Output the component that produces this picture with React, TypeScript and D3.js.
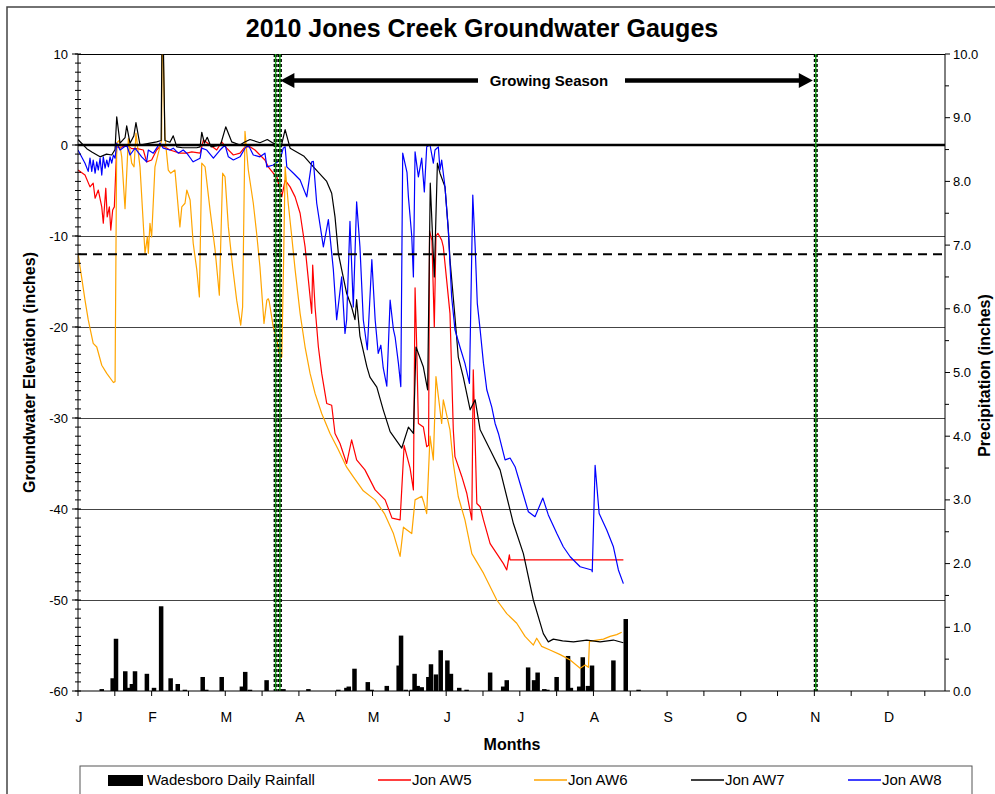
import React from 'react';
import * as d3 from 'd3';

// day of year (0 = Jan 1) and elevation in inches
const aw5: [number, number][] = [
  [0,-2.75],[2.95,-3.3],[5.05,-4.6],[6.4,-4.2],[7.2,-5.85],[8.55,-4.95],[10,-6.8],[10.65,-8.6],[11.7,-4.75],[12.3,-7.9],[13.2,-6.8],[13.8,-9.35],[14.6,-7.15],[15.3,-6.8],
  [16.3,-0.2],[17.7,-0.3],[20.5,0],[22.6,-0.4],[25,-0.4],[27.5,-0.55],[28.9,-1.85],[31,-1.65],[33.1,-0.55],[35.2,0],[38.7,-0.55],[42.9,-0.9],[45.8,-0.9],[47.9,-0.75],
  [51.4,-0.9],[52.8,0.55],[55.6,0],[58.4,-0.55],[60.5,0.35],[62.6,-0.35],[65.4,-1.1],[68.2,-0.9],[70.3,-0.2],[72.4,-0.2],[74.5,-0.55],[76.6,-1.1],[78.7,-1.65],[80.1,-2.4],
  [82.2,-3.1],[83.7,-3.5],[85.8,-5.7],[87.2,-3.85],[89.3,-4.6],[91.4,-5.7],[93.5,-7.5],[95.6,-11.2],[97,-14.85],[98.4,-18.5],[98.8,-13.2],[99.8,-17.8],[101.2,-22.2],
  [102.6,-25.1],[104.7,-28.4],[106.8,-28.6],[108.2,-31.7],[110.3,-32.8],[113.1,-35.0],[115.2,-32.4],[117.3,-34.6],[120.8,-35.7],[125.1,-37.9],[129.3,-39.0],[132.2,-41.0],
  [135.6,-41.2],[137.3,-33.0],[139.8,-35.5],[141.2,-37.9],[141.9,-15.7],[142.6,-22.2],[143.3,-30.6],[145.4,-31.0],[146.8,-33.15],[147.6,-33],[148,-9.4],[149,-10.5],
  [150,-20.0],[150.7,-10.0],[151.5,-9.7],[153.1,-10.45],[153.8,-11.2],[155.2,-14.85],[156.6,-18.5],[158,-31.3],[158.7,-34.25],[161.6,-36.45],[163.7,-38.3],[165.8,-41.2],
  [166.4,-24.7],[167.9,-39.4],[169.3,-39.75],[170.7,-41.2],[173.5,-43.8],[176.3,-44.9],[179.1,-46.0],[180.5,-46.7],[181.6,-45.05],[181.9,-45.6],[229.6,-45.6]
];

const aw6: [number, number][] = [
  [0,-11.9],[1.5,-14.5],[2.95,-17.05],[4.3,-19.2],[6.4,-21.8],[7.9,-22.2],[10,-24.2],[12.1,-25.1],[14.9,-26.1],[15.6,-26.0],[16.3,0.2],[17.3,0.5],[18.4,-1.3],[19.8,-7.0],
  [21.2,0.7],[22.6,-2.0],[23.6,-2.4],[24.4,1.3],[26.1,-2.4],[28.2,-11.9],[29.2,-10.1],[29.6,-11.9],[30.3,-8.6],[31,-10.1],[32.4,-2.4],[33.8,-0.9],[35.2,0.5],[35.4,10],
  [35.9,10],[36.6,0.9],[38,-2.75],[39,-3.1],[40.8,-2.75],[42.9,-9.0],[43.7,-6.8],[45.05,-6.4],[45.8,-4.95],[47.2,-6.05],[48.5,-10.8],[50,-13.7],[51.1,-16.7],[52.1,-2.0],
  [53.5,-2.4],[55.6,-7.15],[57.7,-11.5],[59.5,-16.5],[60.9,-3.1],[61.9,-3.5],[63.3,-9.0],[65.1,-13.4],[66.8,-17.05],[68.5,-19.8],[69.3,-17.8],[70.3,1.5],[71.7,-2.75],
  [73.8,-6.4],[75.2,-9.7],[76.6,-13.4],[78.3,-19.6],[79.5,-17.05],[80.1,-16.9],[80.5,-17.2],[82.2,-20.0],[83.7,-21.4],[85.05,-23.45],[85.8,-23.3],[86.6,-12],[87.2,-2.4],
  [88.5,-6.4],[90,-10.1],[91.4,-13.7],[93.5,-18.5],[95.6,-22.2],[97.7,-25.1],[99.8,-27.3],[102.6,-29.5],[106.1,-31.7],[109.6,-33.5],[113.1,-35.4],[116,-36.5],[120.1,-38.0],
  [125,-39.0],[129,-40.5],[132.8,-42.7],[135.6,-45.2],[137,-42.0],[138.5,-42.3],[140.5,-42.7],[141.9,-39.0],[144.7,-38.6],[145.5,-39.2],[146.8,-40.5],[148.2,-32.0],
  [149.6,-34.6],[150.7,-25.45],[153.1,-30.6],[153.8,-28.0],[156.6,-31.3],[158,-35.0],[160.1,-38.65],[162.9,-41.2],[165.8,-44.9],[170.7,-47.05],[176.3,-50.0],[180.5,-51.5],
  [184.7,-52.55],[188.2,-54.0],[191.7,-54.95],[193.1,-54.2],[195.2,-55.1],[198.7,-55.5],[203,-56.0],[207.2,-56.6],[211.4,-57.5],[213.5,-57.15],[214.9,-57.4],[215.3,-54.55],
  [218.4,-54.4],[221.2,-54.3],[224,-54.0],[226.8,-53.8],[228.9,-53.55]
];

const aw7: [number, number][] = [
  [0,0.6],[3.7,-0.4],[6,-0.8],[9.3,-1.3],[12,-1.0],[14.2,-1.1],[15.6,-0.5],[16.3,3.1],[17.7,0.2],[19.8,0.8],[20.5,2.1],[21.9,0.2],[23.5,1.0],[24.4,2.45],[26.1,0],
  [28.2,0.1],[30.3,0.2],[33.1,0.35],[35.0,0.5],[35.3,10],[36.0,10],[36.6,0.5],[38.7,0.3],[40.1,1.0],[41.6,-0.2],[44,-0.3],[47,-0.3],[50,-0.3],[51.4,-0.2],[52.1,1.4],
  [53.2,0.2],[54.4,0.85],[56,-0.2],[60,0],[62.2,2.0],[64.7,0.35],[68.2,0],[70,0.3],[72.4,0.6],[76.6,0.25],[79.7,0.6],[82.2,0.2],[84.5,0],[85.5,-0.2],[87.2,1.7],
  [89.3,-0.35],[95,-1.2],[99.1,-2.4],[104.7,-4.0],[106.8,-5.3],[108.2,-7.9],[109.6,-11.9],[111,-13.7],[113.1,-16.3],[115.2,-17.8],[116.6,-19.2],[117.3,-17.0],[118.7,-21.0],
  [121.6,-24.35],[122.9,-25.5],[125.8,-26.6],[128.5,-29.1],[131.4,-31.5],[136.3,-33.3],[139.1,-31.0],[141.2,-31.7],[142.3,-22.2],[145.4,-24.4],[147.2,-26.9],[148.3,-4.2],
  [150,-14.5],[151.3,-2.0],[152.4,-3.1],[154.5,-4.6],[155.9,-9.3],[156.6,-12.6],[158.7,-18.9],[160.1,-23.3],[162.2,-25.5],[165.1,-29.1],[167.2,-28.0],[169.3,-31.3],
  [173.5,-33.5],[177.7,-35.7],[183.3,-41.6],[187.5,-44.9],[191.7,-50.0],[195.9,-53.7],[198,-54.6],[200.1,-54.3],[204,-54.5],[208.6,-54.6],[214.2,-54.4],[219.8,-54.6],
  [225.4,-54.4],[229.6,-54.7]
];

const aw8: [number, number][] = [
  [0,-0.55],[2.95,-2.0],[4.3,-2.9],[5.05,-1.45],[5.8,-2.9],[6.4,-1.65],[7.2,-3.1],[7.9,-1.85],[8.55,-2.75],[9.3,-1.45],[10,-3.3],[10.65,-1.3],[11.4,-2.55],[12.1,-1.65],
  [12.8,-2.4],[13.5,-1.3],[14.2,-2.0],[14.9,-1.1],[15.6,-1.45],[16.3,0.2],[17.7,-0.55],[20.5,0],[21.9,-1.1],[24,-0.35],[26.8,-1.3],[28.9,-1.85],[29.6,-0.55],[31.7,-0.9],
  [34.5,0.2],[35.9,-0.35],[38.7,-0.55],[40.1,-0.35],[42.2,-0.9],[44.3,-0.55],[45.8,-0.9],[47.9,-1.65],[48.5,-1.85],[51.4,-1.45],[52.1,-0.35],[54.2,-0.55],[57,-1.45],
  [59.8,-0.55],[61.9,0],[63.3,-1.3],[65.4,-1.65],[68.2,-1.3],[70.3,-0.35],[71.7,0],[73.8,-1.1],[76.6,-1.3],[78.7,-0.9],[79.5,-2.4],[82.2,-2.2],[85.05,-1.65],[86.4,-0.35],
  [87.2,-0.2],[87.9,-2.4],[90.7,-3.1],[93.5,-3.85],[96.3,-5.7],[98.4,-1.85],[99.1,-1.8],[100.5,-6.4],[103.3,-11.2],[105.4,-8.2],[107.5,-13.7],[108.9,-19.2],[111,-14.5],
  [112.4,-20.7],[113.1,-19.2],[114.5,-8.4],[115.9,-17.8],[117.3,-6.25],[118.7,-11.2],[120.1,-19.2],[121.8,-22.5],[123.7,-12.6],[125.1,-19.2],[126.4,-22.9],[127.5,-22.0],
  [128.5,-24.5],[130,-26.5],[131.4,-17.05],[132.8,-20.3],[133.5,-21.1],[134.9,-24.0],[135.9,-26.55],[136.7,-0.9],[138.5,-3.0],[139.1,-5.7],[140.5,-10.0],[141.2,-14.5],
  [141.9,-0.75],[143.3,-3.5],[144.7,-1.45],[145.8,-5.15],[146.8,-0.2],[148.2,0],[149.6,-2.0],[150.3,-0.55],[151.7,-0.2],[152.4,-2.75],[153.1,-1.65],[154.5,-4.6],
  [155.9,-9.35],[157.3,-16.7],[158.7,-20.3],[160.8,-22.2],[162.9,-24.0],[164.8,-26.2],[166.2,-5.5],[167.2,-11.2],[168.1,-17.4],[169.3,-20.3],[170.7,-24.0],[172.1,-26.9],
  [174.2,-28.8],[175.6,-30.6],[177,-31.7],[179.8,-34.6],[181.9,-34.4],[184,-35.35],[186.1,-37.2],[189.6,-40.3],[192.4,-40.85],[195.7,-38.8],[198,-40.65],[201.6,-42.7],
  [204.3,-44.15],[207.2,-45.25],[211.4,-46.35],[216.3,-46.7],[216.5,-46.9],[217.7,-35.2],[219.4,-40.5],[222.6,-42.3],[225.4,-44.15],[227.5,-46.7],[229.6,-48.2]
];

// Wadesboro daily rainfall: day of year, inches
const rainfall: [number, number][] = [
  [10,0.03],[14.6,0.2],[16,0.82],[19.9,0.31],[21,0.05],[22.7,0.11],[24,0.31],[29,0.27],[32,0.05],[35,1.33],[39,0.2],[42,0.11],[45,0.02],[52.5,0.22],[54,0.02],
  [60.5,0.22],[69,0.07],[70.4,0.3],[72.4,0.02],[79.4,0.17],[86.5,0.03],[97,0.03],[109.6,0.02],[113,0.05],[114,0.07],[116.4,0.35],[122,0.14],[123.6,0.02],[130,0.08],
  [135,0.40],[136,0.87],[138,0.02],[140.5,0.02],[141.7,0.27],[143,0.08],[144.7,0.06],[147.5,0.22],[148.6,0.42],[150.7,0.26],[152.7,0.64],[155.5,0.48],[157,0.27],
  [160.5,0.05],[163.6,0.02],[173.5,0.29],[179,0.07],[180.5,0.17],[189.5,0.37],[192,0.17],[193.5,0.29],[196.3,0.03],[197.6,0.02],[201.5,0.22],[206.3,0.55],[207.5,0.05],
  [211,0.07],[212.5,0.53],[214.7,0.08],[216.4,0.40],[225.4,0.48],[230.6,1.13],[236,0.02]
];

const monthLabels = ['J', 'F', 'M', 'A', 'M', 'J', 'J', 'A', 'S', 'O', 'N', 'D'];
const leftTicks = [10, 0, -10, -20, -30, -40, -50, -60];
const rightTicks = [10, 9, 8, 7, 6, 5, 4, 3, 2, 1, 0];
const gridValues = [-10, -20, -30, -40, -50];
const seasonLines = [83.2, 85.0, 310.6];
const thresholdValue = -12;

const series = [
  { name: 'Jon AW5', data: aw5, color: '#ff0000' },
  { name: 'Jon AW6', data: aw6, color: '#ffa500' },
  { name: 'Jon AW7', data: aw7, color: '#000000' },
  { name: 'Jon AW8', data: aw8, color: '#0000ff' },
];

const font = 'Arial, "Liberation Sans", Helvetica, sans-serif';
const narrow = '"Liberation Sans Narrow", "Arial Narrow", Arial, sans-serif';

export default function App() {
  const left = 78, right = 945, top = 54, bottom = 691;
  const x = d3.scaleLinear().domain([0, 365]).range([left, right]);
  const y = d3.scaleLinear().domain([-60, 10]).range([bottom, top]);
  const yR = d3.scaleLinear().domain([0, 10]).range([bottom, top]);
  const line = d3.line<[number, number]>().x(d => x(d[0])).y(d => y(d[1]));

  const minorLeft = d3.range(-60, 11, 1);
  const minorRight = d3.range(0, 10.01, 0.5);
  const xTicks = d3.range(0, 366, 15.5);
  const barW = 4.5;

  const arrowY = 80.5;
  const lTip = x(seasonLines[1]) + 0.5;
  const rTip = x(seasonLines[2]) - 3;

  return (
    <div style={{ position: 'absolute', left: 0, top: 0 }}>
      <svg width={995} height={794} style={{ display: 'block', background: '#fff' }}>
        <rect x={7} y={7} width={1100} height={900} fill="#fff" stroke="#444" strokeWidth={1.5} />
        <defs>
          <clipPath id="plot"><rect x={left} y={top} width={right - left} height={bottom - top} /></clipPath>
        </defs>

        <text x={482} y={37} textAnchor="middle" fontFamily={font} fontWeight="bold" fontSize={25}>2010 Jones Creek Groundwater Gauges</text>

        {gridValues.map(v => (
          <line key={v} x1={left} x2={right} y1={Math.round(y(v)) + 0.5} y2={Math.round(y(v)) + 0.5} stroke="#444" strokeWidth={1} />
        ))}
        <line x1={left} x2={right} y1={top + 0.5} y2={top + 0.5} stroke="#000" strokeWidth={1} />

        {/* rainfall */}
        {rainfall.map((d, i) => (
          <rect key={i} x={x(d[0]) - barW / 2} y={yR(d[1])} width={barW} height={bottom - yR(d[1])} fill="#000" />
        ))}

        <g clipPath="url(#plot)">
          {series.map(s => (
            <path key={s.name} d={line(s.data) || ''} fill="none" stroke={s.color} strokeWidth={1.2} strokeLinejoin="round" />
          ))}
        </g>

        <line x1={left} x2={right} y1={y(0)} y2={y(0)} stroke="#000" strokeWidth={2.5} />
        <line x1={left} x2={right} y1={y(thresholdValue)} y2={y(thresholdValue)} stroke="#000" strokeWidth={2} strokeDasharray="9,6" />

        {seasonLines.map(d => (
          <g key={d}>
            <line x1={x(d)} x2={x(d)} y1={top} y2={bottom} stroke="#000" strokeWidth={4} strokeDasharray="3,2" />
            <line x1={x(d)} x2={x(d)} y1={top} y2={bottom} stroke="#1fa01f" strokeWidth={1.5} />
          </g>
        ))}

        {/* growing season arrows */}
        <line x1={lTip + 12} x2={478} y1={arrowY} y2={arrowY} stroke="#000" strokeWidth={4.5} />
        <polygon points={`${lTip},${arrowY} ${lTip + 14},${arrowY - 7.5} ${lTip + 14},${arrowY + 7.5}`} fill="#000" />
        <line x1={625} x2={rTip - 12} y1={arrowY} y2={arrowY} stroke="#000" strokeWidth={4.5} />
        <polygon points={`${rTip},${arrowY} ${rTip - 14},${arrowY - 7.5} ${rTip - 14},${arrowY + 7.5}`} fill="#000" />
        <text x={549} y={85.5} textAnchor="middle" fontFamily={font} fontWeight="bold" fontSize={15}>Growing Season</text>

        {/* axes */}
        <line x1={left} x2={left} y1={top} y2={bottom} stroke="#000" strokeWidth={1} />
        <line x1={right} x2={right} y1={top} y2={bottom} stroke="#000" strokeWidth={1} />
        <line x1={left} x2={right} y1={bottom} y2={bottom} stroke="#000" strokeWidth={1.2} />

        {minorLeft.map(v => (
          <line key={v} x1={left - 3} x2={left + 3} y1={y(v)} y2={y(v)} stroke="#000" strokeWidth={1} />
        ))}
        {leftTicks.map(v => (
          <g key={v}>
            <line x1={left - 6} x2={left} y1={y(v)} y2={y(v)} stroke="#000" strokeWidth={1} />
            <text x={68} y={y(v) + 4.5} textAnchor="end" fontFamily={font} fontSize={13}>{v}</text>
          </g>
        ))}
        {minorRight.map(v => (
          <line key={v} x1={right} x2={right + (Number.isInteger(v) ? 5 : 4)} y1={yR(v)} y2={yR(v)} stroke="#000" strokeWidth={1} />
        ))}
        {rightTicks.map(v => (
          <text key={v} x={953} y={yR(v) + 4.5} fontFamily={font} fontSize={13}>{v.toFixed(1)}</text>
        ))}
        {xTicks.map(d => (
          <line key={d} x1={x(d)} x2={x(d)} y1={bottom} y2={bottom + 5} stroke="#000" strokeWidth={1} />
        ))}
        {monthLabels.map((m, i) => (
          <text key={i} x={x(i * 31) + 1} y={722} textAnchor="middle" fontFamily={font} fontSize={14}>{m}</text>
        ))}

        <text x={512} y={750} textAnchor="middle" fontFamily={font} fontWeight="bold" fontSize={16}>Months</text>
        <text transform={`translate(35,${(top + bottom) / 2}) rotate(-90)`} textAnchor="middle" fontFamily={font} fontWeight="bold" fontSize={16}>Groundwater Elevation (inches)</text>
        <text transform={`translate(990,${(top + bottom) / 2 + 3}) rotate(-90)`} textAnchor="middle" fontFamily={font} fontWeight="bold" fontSize={16}>Precipitation (inches)</text>

        {/* legend */}
        <rect x={80} y={766} width={892} height={60} fill="#fff" stroke="#555" strokeWidth={1} />
        <rect x={108} y={775} width={35} height={11} fill="#000" />
        <text x={147} y={785} fontFamily={narrow} fontSize={15}>Wadesboro Daily Rainfall</text>
        {series.map((s, i) => {
          const lx = [378, 534, 691, 848][i];
          return (
            <g key={s.name}>
              <line x1={lx} x2={lx + 33} y1={780} y2={780} stroke={s.color} strokeWidth={1.5} />
              <text x={lx + 34} y={785} fontFamily={narrow} fontSize={15}>{s.name}</text>
            </g>
          );
        })}
      </svg>
    </div>
  );
}
